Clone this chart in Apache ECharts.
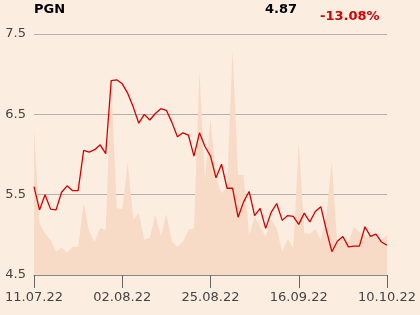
<!DOCTYPE html>
<html><head><meta charset="utf-8">
<script src="https://cdn.jsdelivr.net/npm/echarts@6/dist/echarts.min.js"></script>
<style>html,body{margin:0;padding:0;background:#fcede1;}#c{width:420px;height:315px;}</style>
</head><body><div id="c"></div>
<script>
const categories = [
 '11.07.22','12.07.22','13.07.22','14.07.22','15.07.22','18.07.22','19.07.22','20.07.22','21.07.22','22.07.22','25.07.22','26.07.22','27.07.22','28.07.22','29.07.22',
 '01.08.22','02.08.22','03.08.22','04.08.22','05.08.22','08.08.22','09.08.22','10.08.22','11.08.22','12.08.22','16.08.22','17.08.22','18.08.22','19.08.22','22.08.22','23.08.22','24.08.22','25.08.22','26.08.22','29.08.22','30.08.22','31.08.22',
 '01.09.22','02.09.22','05.09.22','06.09.22','07.09.22','08.09.22','09.09.22','12.09.22','13.09.22','14.09.22','15.09.22','16.09.22','19.09.22','20.09.22','21.09.22','22.09.22','23.09.22','26.09.22','27.09.22','28.09.22','29.09.22','30.09.22',
 '03.10.22','04.10.22','05.10.22','06.10.22','07.10.22','10.10.22'];
const prices = [5.60,5.31,5.50,5.32,5.31,5.53,5.61,5.55,5.55,6.05,6.03,6.06,6.12,6.01,6.92,6.93,6.88,6.76,6.59,6.39,6.50,6.43,6.51,6.57,6.55,6.40,6.22,6.27,6.24,5.98,6.27,6.10,5.98,5.71,5.88,5.58,5.58,5.22,5.41,5.54,5.24,5.33,5.08,5.28,5.39,5.18,5.24,5.23,5.13,5.27,5.16,5.29,5.35,5.06,4.79,4.92,4.98,4.85,4.86,4.86,5.10,4.98,5.01,4.91,4.87];
const volumes = [6.09,2.15,1.73,1.45,0.97,1.13,0.93,1.17,1.17,2.98,1.80,1.38,1.96,1.87,8.00,2.78,2.73,4.66,2.28,2.59,1.45,1.56,2.49,1.62,2.52,1.38,1.17,1.38,1.87,1.94,8.44,3.94,6.49,4.01,3.39,3.66,9.37,4.15,4.15,1.66,2.42,2.00,1.59,2.30,1.94,0.95,1.49,1.11,5.53,1.74,1.70,1.91,1.45,2.49,4.70,1.24,1.58,1.37,1.99,1.78,1.58,1.66,1.58,1.45,1.66];
const ticker = 'PGN', lastPrice = '4.87', change = '-13.08%';

const chart = echarts.init(document.getElementById('c'), null, {renderer:'canvas'});
const font = 'DejaVu Sans';
chart.setOption({
  backgroundColor:'#fcede1',
  animation:false,
  grid:{left:34,right:33,top:34,bottom:40},
  graphic:[
    {type:'text',left:34,top:3,style:{text:ticker,font:'bold 13px "DejaVu Sans"',fill:'#000'}},
    {type:'text',right:123,top:3,style:{text:lastPrice,font:'bold 13px "DejaVu Sans"',fill:'#000'}},
    {type:'text',left:320,top:10,style:{text:change,font:'bold 13px "DejaVu Sans"',fill:'#d40000'}}
  ],
  xAxis:{type:'category',data:categories,boundaryGap:false,
    axisLine:{lineStyle:{color:'#888',width:1}},
    axisTick:{interval:15,length:13,lineStyle:{color:'#666'}},
    axisLabel:{interval:15,color:'#444',fontFamily:font,fontSize:13,margin:16},
    splitLine:{show:false}},
  yAxis:[{type:'value',min:4.5,max:7.5,interval:1,
    axisLine:{show:false},axisTick:{show:false},
    axisLabel:{color:'#444',fontFamily:font,fontSize:13,margin:8,formatter:v=>v.toFixed(1)},
    splitLine:{lineStyle:{color:'#b4b0ac',width:1}}},
   {type:'value',min:0,max:10,show:false,splitLine:{show:false}}],
  series:[
    {type:'line',yAxisIndex:1,data:volumes,symbol:'none',lineStyle:{width:0},areaStyle:{color:'#f8dbc6',opacity:1},z:1},
    {type:'line',data:prices,symbol:'none',lineStyle:{color:'#d40000',width:1.3},z:3}
  ]
});
</script></body></html>
